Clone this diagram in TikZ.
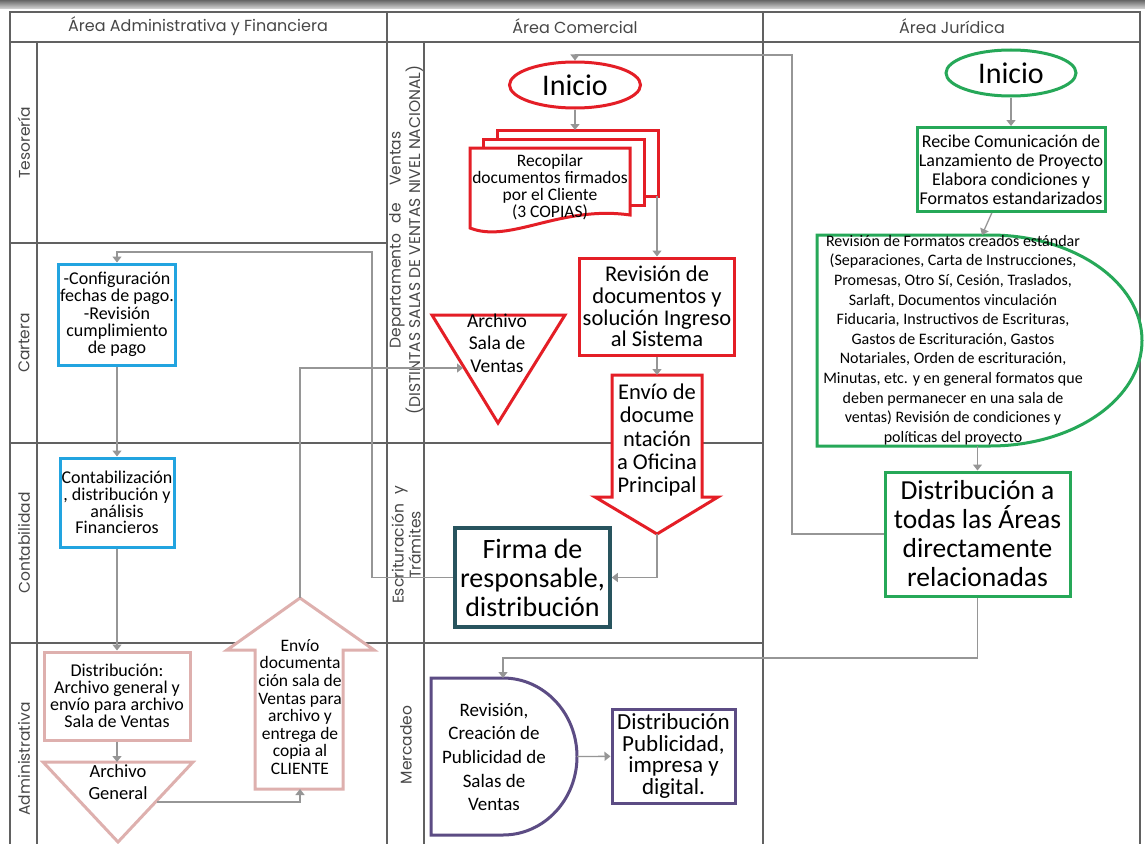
\documentclass[tikz,border=0pt]{standalone}
\usepackage{fontspec}
\setmainfont{Carlito}
\newfontfamily\gotica{Poppins}
\usepackage{tikz}
\usetikzlibrary{calc,shapes.geometric,arrows.meta}
\def\fs#1#2{\fontsize{#1}{#2}\selectfont}
\definecolor{rojo}{RGB}{228,30,38}
\definecolor{verde}{RGB}{38,168,88}
\definecolor{azul}{RGB}{34,164,224}
\definecolor{rosa}{RGB}{222,176,174}
\definecolor{petroleo}{RGB}{40,84,94}
\definecolor{morado}{RGB}{92,76,132}
\definecolor{gris}{RGB}{150,150,150}
\tikzset{
	caja/.style={rectangle, line width=3pt, fill=white, align=center, inner sep=0pt},
	con/.style={draw=gris, line width=1.3pt, -{Triangle[width=9pt,length=6pt]}},
	rejilla/.style={draw=black!62, line width=1.4pt},
	carril/.style={font=\gotica\fs{15.5}{17}, rotate=90, text=black!72, align=center},
	titulo/.style={font=\gotica\fs{16}{18}, text=black!72}
}

\begin{document}
\begin{tikzpicture}[x=1pt, y=-1pt]
			%%%%% START %%%%%
			\useasboundingbox (0,0) rectangle (1145,843);
			\fill[white] (0,0) rectangle (1145,843);
			\shade[top color=black!60, bottom color=black!15] (0,0) rectangle (1145,9);
			
			% rejilla
			\draw[rejilla] (10,12) rectangle (1140,860);
			\draw[rejilla] (10,42) -- (1140,42);
			\draw[rejilla] (387,12) -- (387,860);
			\draw[rejilla] (763,12) -- (763,860);
			\draw[rejilla] (37,42) -- (37,860);
			\draw[rejilla] (424,42) -- (424,860);
			\draw[rejilla] (10,243) -- (387,243);
			\draw[rejilla] (10,443) -- (763,443);
			\draw[rejilla] (10,643) -- (763,643);
			
			\node[titulo] (tAdm) at (198,26) {Área Administrativa y Financiera};
			\node[titulo] (tCom) at (575,26) {Área Comercial};
			\node[titulo] (tJur) at (952,26) {Área Jurídica};
			
			\node[carril] (lTes) at (24,143) {Tesorería};
			\node[carril] (lCar) at (24,343) {Cartera};
			\node[carril] (lCon) at (24,543) {Contabilidad};
			\node[carril] (lAdm) at (24,759) {Administrativa};
			\node[carril] (lVen) at (406,240) {Departamento\hspace{0.7em}de\hspace{1.1em}Ventas\\(DISTINTAS SALAS DE VENTAS NIVEL NACIONAL)};
			\node[carril] (lEsc) at (406,545) {Escrituración\hspace{0.6em}y\\Trámites};
			\node[carril] (lMer) at (406,745) {Mercadeo};
			
			% area comercial
			\node[ellipse, draw=rojo, line width=3pt, fill=white, minimum width=131pt, minimum height=46pt, font=\fs{30}{32}] (iniRojo) at (575,85) {Inicio};
			
			\draw[line width=3pt, draw=rojo, fill=white] (497,130) rectangle (658,196);
			\draw[line width=3pt, draw=rojo, fill=white] (483,139) rectangle (644,205);
			\draw[line width=3pt, draw=rojo, fill=white] (470,148) -- (630,148) -- (630,215) .. controls (560,205) and (510,244) .. (470,228) -- cycle;
			\node[align=center, font=\fs{17.5}{16.8}] (recop) at (550,187) {Recopilar\\documentos firmados\\por el Cliente\\(3 COPIAS)};
			\coordinate (recopN) at (575,130);
			\coordinate (recopE) at (657,196);
			
			\node[caja, draw=rojo, minimum width=155pt, minimum height=97pt, font=\fs{22.5}{21.7}] (revDoc) at (657,306.5) {Revisión de\\documentos y\\solución Ingreso\\al Sistema};
			
			\draw[line width=3pt, draw=rojo, fill=white] (612,375) -- (702,375) -- (702,497) -- (718,497) -- (657,534) -- (595,497) -- (612,497) -- cycle;
			\node[align=center, font=\fs{22.5}{23.3}] (envioOf) at (657,440) {Envío de\\docume\\ntación\\a Oficina\\Principal};
			\coordinate (envioOfN) at (657,375);
			\coordinate (envioOfS) at (657,534);
			
			\draw[line width=3pt, draw=rojo, fill=white] (432,315) -- (565,315) -- (498,423) -- cycle;
			\node[align=center, font=\fs{19.5}{22.5}] (archSala) at (497,343) {Archivo\\Sala de\\Ventas};
			\coordinate (archSalaW) at (463,368);
			
			\node[caja, draw=petroleo, line width=3.5pt, minimum width=155pt, minimum height=99pt, font=\fs{28}{29}] (firma) at (532.5,577.5) {Firma de\\responsable,\\distribución};
			
			\draw[line width=3pt, draw=morado, fill=white] (431,678) -- (503,678) arc[start angle=-90, end angle=90, x radius=74, y radius=78.5] -- (431,835) -- cycle;
			\node[align=center, font=\fs{19}{23.7}] (merc) at (494,757) {Revisión,\\Creación de\\Publicidad de\\Salas de\\Ventas};
			\coordinate (mercN) at (503,678);
			\coordinate (mercE) at (577,756.5);
			
			\node[caja, draw=morado, minimum width=123pt, minimum height=94pt, font=\fs{23}{21.7}] (distPub) at (673.5,756) {Distribución\\Publicidad,\\impresa y\\digital.};
			
			% area juridica
			\node[ellipse, draw=verde, line width=3pt, fill=white, minimum width=130pt, minimum height=46pt, font=\fs{30}{32}] (iniVerde) at (1011,73) {Inicio};
			
			\node[caja, draw=verde, minimum width=188pt, minimum height=84pt, font=\fs{18}{19}] (recibe) at (1011,169.5) {Recibe Comunicación de\\Lanzamiento de Proyecto\\Elabora condiciones y\\Formatos estandarizados};
			
			\draw[line width=3pt, draw=verde, fill=white] (817,235) -- (990,235) arc[start angle=-90, end angle=90, x radius=152, y radius=105.5] -- (817,446) -- cycle;
			\node[align=center, font=\fs{16}{19.6}] (revForm) at (953,340) {Revisión de Formatos creados estándar\\(Separaciones, Carta de Instrucciones,\\Promesas, Otro Sí, Cesión, Traslados,\\Sarlaft, Documentos vinculación\\Fiducaria, Instructivos de Escrituras,\\Gastos de Escrituración, Gastos\\Notariales, Orden de escrituración,\\Minutas, etc. y en general formatos que\\deben permanecer en una sala de\\ventas) Revisión de condiciones y\\políticas del proyecto};
			\coordinate (revFormN) at (982,235);
			\coordinate (revFormS) at (977.5,446);
			
			\node[caja, draw=verde, minimum width=185pt, minimum height=124pt, font=\fs{27.5}{29}] (distAreas) at (977.5,534) {Distribución a\\todas las Áreas\\directamente\\relacionadas};
			
			% area administrativa
			\node[caja, draw=azul, minimum width=117pt, minimum height=101pt, font=\fs{18}{17.2}] (config) at (117,314.5) {-Configuración\\fechas de pago.\\-Revisión\\cumplimiento\\de pago};
			\node[caja, draw=azul, minimum width=114pt, minimum height=89pt, font=\fs{18}{16.7}] (contab) at (117,502.5) {Contabilización\\, distribución y\\análisis\\Financieros};
			\node[caja, draw=rosa, minimum width=146pt, minimum height=88pt, font=\fs{18}{17}] (distrib) at (117,696) {Distribución:\\Archivo general y\\envío para archivo\\Sala de Ventas};
			
			\draw[line width=3pt, draw=rosa, fill=white] (43,762) -- (193,762) -- (118,842) -- cycle;
			\node[align=center, font=\fs{18.5}{22}] (archGen) at (118,782) {Archivo\\General};
			\coordinate (archGenN) at (117,762);
			\coordinate (archGenE) at (157,802);
			
			\draw[line width=3pt, draw=rosa, fill=white] (300,598) -- (374,650) -- (343,650) -- (343,789) -- (255,789) -- (255,650) -- (227,650) -- cycle;
			\node[align=center, font=\fs{17.5}{17.6}] (envioCli) at (300,707) {Envío\\documenta\\ción sala de\\Ventas para\\archivo y\\entrega de\\copia al\\CLIENTE};
			\coordinate (envioCliN) at (300,598);
			\coordinate (envioCliS) at (300,789);
			
			% conectores
			\draw[con] (iniRojo) -- (recopN);
			\draw[con] (recopE) -- (recopE |- revDoc.north);
			\draw[con] (revDoc) -- (envioOfN);
			\draw[con] (envioOfS) |- (firma);
			\draw[con] (firma) -| (372,252) -| (config);
			\draw[con] (config) -- (contab);
			\draw[con] (contab) -- (distrib);
			\draw[con] (distrib) -- (archGenN);
			\draw[con] (archGenE) -| (envioCliS);
			\draw[con] (envioCliN) |- (archSalaW);
			\draw[con] (iniVerde) -- (recibe);
			\draw[con] (recibe) -- (revFormN);
			\draw[con] (revFormS) -- (distAreas);
			\draw[con] (distAreas) -| (792,55) -| (iniRojo);
			\draw[con] (distAreas) -- (977.5,658) -| (mercN);
			\draw[con] (mercE) -- (distPub);
			
			%%%%% END %%%%%
\end{tikzpicture}
\end{document}
